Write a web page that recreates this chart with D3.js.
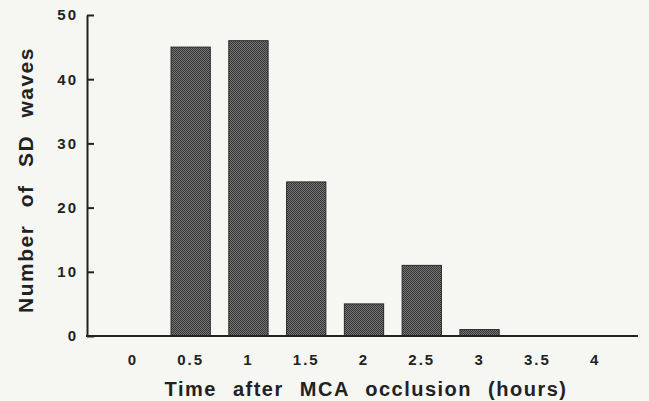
<!DOCTYPE html>
<html>
<head>
<meta charset="utf-8">
<script src="https://d3js.org/d3.v7.min.js"></script>
<style>
  body { margin: 0; background: #f6f6f3; }
  svg { display: block; }
  .tick text { font-family: "Liberation Sans", Arial, sans-serif; font-weight: bold; fill: #222; letter-spacing: 2px; }
  .title { font-family: "Liberation Sans", Arial, sans-serif; font-weight: bold; fill: #222; }
</style>
</head>
<body>
<svg width="649" height="401"></svg>
<script>
var times = ["0", "0.5", "1", "1.5", "2", "2.5", "3", "3.5", "4"];
var waves = [0, 45, 46, 24, 5, 11, 1, 0, 0];
var yTicks = [0, 10, 20, 30, 40, 50];

var svg = d3.select("svg");

// dotted texture like the scanned bars
var pat = svg.append("defs").append("pattern")
  .attr("id", "dots").attr("width", 2).attr("height", 2)
  .attr("patternUnits", "userSpaceOnUse");
pat.append("rect").attr("width", 2).attr("height", 2).attr("fill", "#767676");
pat.append("rect").attr("width", 1).attr("height", 1).attr("fill", "#353535");
pat.append("rect").attr("x", 1).attr("y", 1).attr("width", 1).attr("height", 1).attr("fill", "#353535");

var x = d3.scaleBand().domain(times).range([104, 624]).paddingInner(0.32).paddingOuter(0.16);
var y = d3.scaleLinear().domain([0, 50]).range([336, 15]);

svg.append("g").selectAll("rect")
  .data(waves)
  .enter().append("rect")
    .attr("x", function(d, i) { return x(times[i]); })
    .attr("y", function(d) { return y(d); })
    .attr("width", x.bandwidth())
    .attr("height", function(d) { return y(0) - y(d); })
    .attr("fill", "url(#dots)")
    .attr("stroke", "#2a2a2a")
    .attr("stroke-width", 1)
    .style("display", function(d) { return d > 0 ? null : "none"; });

// y axis, ticks pointing inward
var ya = svg.append("g")
  .attr("transform", "translate(87,0)")
  .call(d3.axisLeft(y).tickValues(yTicks).tickSizeInner(-7).tickSizeOuter(0).tickPadding(9));
ya.select(".domain").attr("stroke", "#222").attr("stroke-width", 2);
ya.selectAll(".tick line").attr("stroke", "#222").attr("stroke-width", 2);
ya.selectAll(".tick text").style("font-size", "15px");

// x axis
var xa = svg.append("g")
  .attr("transform", "translate(0,336)")
  .call(d3.axisBottom(x).tickSize(0).tickPadding(18));
xa.select(".domain").remove();
xa.selectAll(".tick text").style("font-size", "15px");
svg.append("line")
  .attr("x1", 86).attr("x2", 638).attr("y1", 336).attr("y2", 336)
  .attr("stroke", "#222").attr("stroke-width", 2);

svg.append("text")
  .attr("class", "title")
  .attr("x", 366).attr("y", 396)
  .attr("text-anchor", "middle")
  .style("font-size", "20px")
  .style("letter-spacing", "1.5px")
  .style("word-spacing", "9px")
  .text("Time after MCA occlusion (hours)");

svg.append("text")
  .attr("class", "title")
  .attr("transform", "translate(33,180) rotate(-90)")
  .attr("text-anchor", "middle")
  .style("font-size", "21px")
  .style("letter-spacing", "1.5px")
  .style("word-spacing", "10px")
  .text("Number of SD waves");
</script>
</body>
</html>
